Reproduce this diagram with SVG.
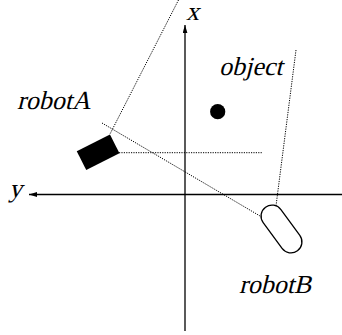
<svg xmlns="http://www.w3.org/2000/svg" width="342" height="335" viewBox="0 0 342 335">
<style>
.axis{stroke:#000;stroke-width:1.3;fill:none}
.dot{stroke:#000;stroke-width:1;stroke-dasharray:1.2 1.2;fill:none}
</style>
<defs>
<marker id="arr" viewBox="0 0 10 6" refX="10" refY="3" markerWidth="8" markerHeight="5" markerUnits="userSpaceOnUse" orient="auto">
<path d="M0,0 L10,3 L0,6 Z" fill="#000"/>
</marker>
</defs>
<rect width="342" height="335" fill="#fff"/>
<g id="axes">
<line class="axis" x1="185" y1="331" x2="185" y2="25" marker-end="url(#arr)"/>
<line class="axis" x1="342" y1="194.5" x2="29" y2="194.5" marker-end="url(#arr)"/>
<text transform="translate(186,20) skewX(-14)" x="0" y="0" font-family="Liberation Serif, serif" font-size="26">x</text>
<text transform="translate(9,197) skewX(-14)" x="0" y="0" font-family="Liberation Serif, serif" font-size="26">y</text>
</g>
<g id="connectors">
<line class="dot" x1="178.5" y1="0" x2="110" y2="134"/>
<line class="dot" x1="102" y1="123" x2="260" y2="216"/>
<line class="dot" x1="119" y1="152.7" x2="263" y2="152.7"/>
<line class="dot" x1="296" y1="50" x2="276" y2="206"/>
</g>
<g id="robotA">
<rect x="-18.6" y="-10.5" width="37.2" height="21" fill="#000" transform="translate(98.1,152.2) rotate(-26.8)"/>
<text transform="translate(17,109) skewX(-14)" x="0" y="0" font-family="Liberation Serif, serif" font-size="26">robotA</text>
</g>
<g id="object">
<circle cx="217.7" cy="111.7" r="7.6" fill="#000"/>
<text transform="translate(219,75) skewX(-14)" x="0" y="0" font-family="Liberation Serif, serif" font-size="26">object</text>
</g>
<g id="robotB">
<rect x="-27" y="-11" width="54" height="22" rx="11" fill="#fff" stroke="#000" stroke-width="1.3" transform="translate(281.5,229) rotate(53.8)"/>
<text transform="translate(239,293) skewX(-14)" x="0" y="0" font-family="Liberation Serif, serif" font-size="26">robotB</text>
</g>
</svg>
